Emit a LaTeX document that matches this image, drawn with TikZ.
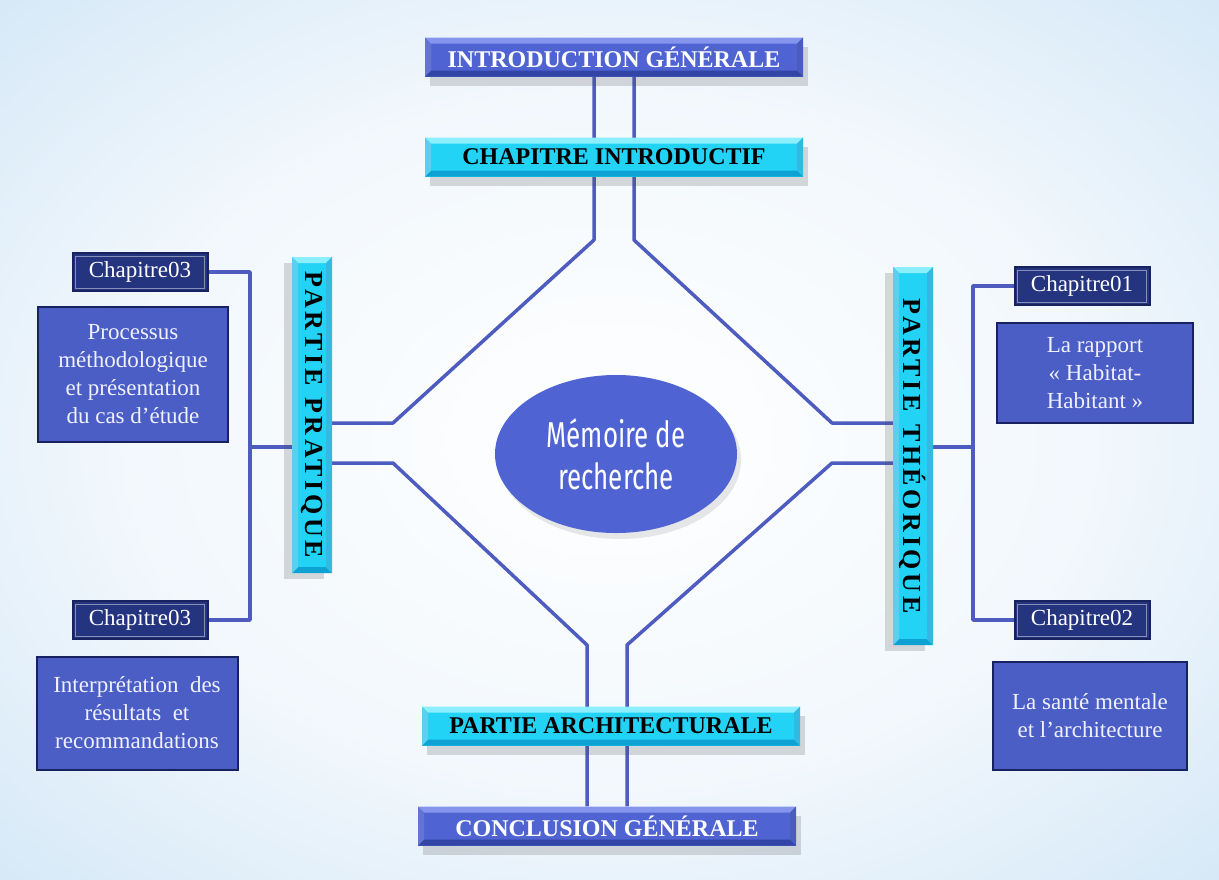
\documentclass[tikz,border=0pt]{standalone}
\usepackage{fontspec}
\setmainfont{Liberation Serif}
\newfontfamily\headfont{Liberation Serif}
\newfontfamily\memfont[FakeStretch=0.72]{Fira Sans}
\usetikzlibrary{positioning,shapes.geometric,shadows}
\definecolor{sky}{HTML}{BCDAF2}
\definecolor{royal}{HTML}{4F64D2}
\definecolor{royaltop}{HTML}{8595EE}
\definecolor{royalbot}{HTML}{3244A6}
\definecolor{cyanb}{HTML}{22D3F6}
\definecolor{cyantop}{HTML}{8CEFFF}
\definecolor{cyanbot}{HTML}{0EA2D4}
\definecolor{navy}{HTML}{25347F}
\definecolor{navyedge}{HTML}{18225E}
\definecolor{card}{HTML}{4A5EC5}
\definecolor{wire}{HTML}{4E5CBF}
\pgfdeclareradialshading{glow}{\pgfpoint{0bp}{0bp}}{color(0bp)=(white);
  color(20bp)=(white!80!sky); color(50bp)=(sky); color(71bp)=(sky!85!blue)}
\pgfdeclarelayer{back}
\pgfdeclarelayer{wires}
\pgfsetlayers{back,wires,main}

\begin{document}
\begin{tikzpicture}[
  x=1pt, y=-1pt,
  bevel/.style 2 args={path picture={
      \fill[#1] (path picture bounding box.north west) -- (path picture bounding box.north east)
        -- ([shift={(-6pt,-6pt)}]path picture bounding box.north east)
        -- ([shift={(6pt,-6pt)}]path picture bounding box.north west) -- cycle;
      \fill[#2] (path picture bounding box.south west) -- (path picture bounding box.south east)
        -- ([shift={(-6pt,6pt)}]path picture bounding box.south east)
        -- ([shift={(6pt,6pt)}]path picture bounding box.south west) -- cycle;
      \fill[#1!60!#2] (path picture bounding box.north west) -- (path picture bounding box.south west)
        -- ([shift={(6pt,6pt)}]path picture bounding box.south west)
        -- ([shift={(6pt,-6pt)}]path picture bounding box.north west) -- cycle;
      \fill[#2!70!#1] (path picture bounding box.north east) -- (path picture bounding box.south east)
        -- ([shift={(-6pt,6pt)}]path picture bounding box.south east)
        -- ([shift={(-6pt,-6pt)}]path picture bounding box.north east) -- cycle;}},
  hdr/.style={minimum width=378pt, minimum height=39pt, inner sep=0pt,
              font=\headfont\bfseries\fontsize{24}{24}\selectfont,
              drop shadow={shadow xshift=5pt, shadow yshift=-9pt, opacity=.2, fill=black!70}},
  bluehdr/.style={hdr, fill=royal, text=white, bevel={royaltop}{royalbot}},
  cyanhdr/.style={hdr, fill=cyanb, text=black, bevel={cyantop}{cyanbot}},
  bar/.style={fill=cyanb, bevel={cyantop}{cyanbot}, minimum width=40pt, inner sep=0pt,
              font=\headfont\bfseries\fontsize{26}{26}\selectfont\addfontfeatures{LetterSpace=14},
              drop shadow={shadow xshift=-8pt, shadow yshift=-6pt, opacity=.2, fill=black!70}},
  memo/.style={ellipse, fill=royal, minimum width=242pt, minimum height=158pt,
               text=white, align=center, font=\memfont\fontsize{36}{42}\selectfont,
               drop shadow={shadow xshift=4pt, shadow yshift=-6pt, opacity=.15, fill=black!60}},
  chap/.style={minimum width=135pt, minimum height=38pt, inner sep=0pt,
               fill=navy, draw=navyedge, line width=2pt, text=white,
               font=\fontsize{23}{23}\selectfont,
               path picture={\draw[navy!55!white, line width=.8pt]
                 ([shift={(3pt,3pt)}]path picture bounding box.south west) rectangle
                 ([shift={(-3pt,-3pt)}]path picture bounding box.north east);}},
  card/.style={fill=card, draw=navyedge, line width=2pt, text=white!94!blue,
               align=center, inner sep=4pt, font=\fontsize{23}{28}\selectfont},
  link/.style={draw=wire, line width=3.5pt, line join=round},
]
\useasboundingbox (0,0) rectangle (1219,879);
\begin{pgfonlayer}{back}
  \shade[shading=glow] (0,0) rectangle (1219,879);
\end{pgfonlayer}

% ------------------------------------------------------------ top and bottom
\node[bluehdr] (intro)     at (614,57)  {INTRODUCTION GÉNÉRALE};
\node[cyanhdr] (chapintro) at (614,157) {CHAPITRE INTRODUCTIF};
\node[cyanhdr] (archi)     at (611,726) {PARTIE ARCHITECTURALE};
\node[bluehdr] (concl)     at (607,826) {CONCLUSION GÉNÉRALE};

% ------------------------------------------------------------ centre, bars
\node[memo] (memoire) at (616,454) {Mémoire de\\recherche};
\node[bar, minimum height=316pt] (pratique)  at (312,415)
  {\rotatebox{-90}{PARTIE\hspace{12pt}PRATIQUE}};
\node[bar, minimum height=378pt] (theorique) at (913,456)
  {\rotatebox{-90}{PARTIE\hspace{12pt}THÉORIQUE}};

% ------------------------------------------------------------ left side
\node[chap] (chapL1) at (140,272) {Chapitre03};
\node[card, minimum width=190pt, minimum height=135pt] (procL) at (133,374)
  {Processus\\méthodologique\\et présentation\\du cas d’étude};
\node[chap] (chapL2) at (140,620) {Chapitre03};
\node[card, minimum width=201pt, minimum height=113pt] (interL) at (137,713)
  {Interprétation\ \ des\\résultats\ \ et\\recommandations};

% ------------------------------------------------------------ right side
\node[chap] (chapR1) at (1082,286) {Chapitre01};
\node[card, minimum width=196pt, minimum height=100pt] (rapR) at (1095,373)
  {La rapport\\« Habitat-\\Habitant\ »};
\node[chap] (chapR2) at (1082,620) {Chapitre02};
\node[card, minimum width=194pt, minimum height=108pt] (santeR) at (1090,716)
  {La santé mentale\\et l’architecture};

% ------------------------------------------------------------ connectors
\coordinate (tlb) at (594,240);  \coordinate (tlj) at (393,423);
\coordinate (trb) at (634,240);  \coordinate (trj) at (832,423);
\coordinate (blj) at (393,463);  \coordinate (blb) at (587,645);
\coordinate (brj) at (832,463);  \coordinate (brb) at (627,645);
\coordinate (ltrunk) at (250,447);
\coordinate (rtrunk) at (973,447);

\begin{pgfonlayer}{wires}
  \draw[link] ([xshift=-20pt]intro.south) -- (tlb) -- (tlj) -- (tlj -| pratique.east);
  \draw[link] ([xshift=20pt]intro.south)  -- (trb) -- (trj) -- (trj -| theorique.west);
  \draw[link] (blj -| pratique.east) -- (blj) -- (blb) -- ([xshift=-20pt]concl.north);
  \draw[link] (brj -| theorique.west) -- (brj) -- (brb) -- ([xshift=20pt]concl.north);

  % chapter trees
  \draw[link] (chapL1.east) -| (ltrunk) |- (chapL2.east);
  \draw[link] (ltrunk) -- (ltrunk -| pratique.west);
  \draw[link] (chapR1.west) -| (rtrunk) |- (chapR2.west);
  \draw[link] (rtrunk) -- (rtrunk -| theorique.east);
\end{pgfonlayer}
\end{tikzpicture}
\end{document}
